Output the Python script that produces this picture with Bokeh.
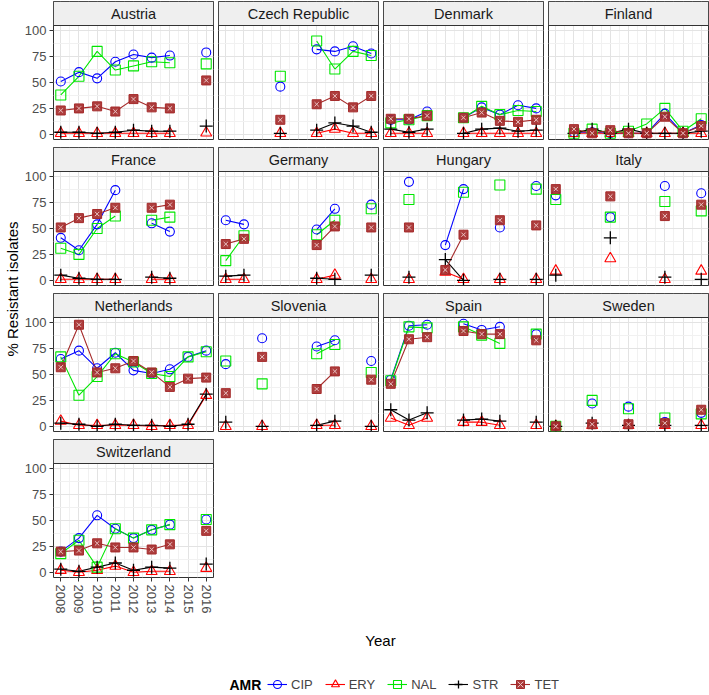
import numpy as np
from bokeh.plotting import figure
from bokeh.layouts import row, column
from bokeh.models import (Range1d, FixedTicker, Label, Legend, LegendItem,
                          ColumnDataSource, Grid, BoxAnnotation)
from bokeh.embed import file_html
from bokeh.resources import INLINE

N = None
YEARS = [2008, 2009, 2010, 2011, 2012, 2013, 2014, 2015, 2016]
YTICKS = [0, 25, 50, 75, 100]
SERIES = ["CIP", "ERY", "NAL", "STR", "TET"]

AUSTRIA = {
    "CIP": [51, 60, 54, 70, 77, 74, 76, N, 79],
    "ERY": [1, 1, 1, 1, 1, 1, 1, N, 1.5],
    "NAL": [38, 56, 80, 62, 66, 70, 69, N, 68],
    "STR": [2, 2, 1, 2, 4, 3, 3, N, 8],
    "TET": [23, 25, 27, 22, 34, 26, 25, N, 52],
}
CZECH = {
    "CIP": [N, N, N, 46, N, 82, 80, 85, 78],
    "ERY": [N, N, N, 1, N, 1, 5, 1, 1],
    "NAL": [N, N, N, 56, N, 90, 63, 80, 76],
    "STR": [N, N, N, 1, N, 4, 11, 8, 2],
    "TET": [N, N, N, 14, N, 29, 37, 26, 37],
}
DENMARK = {
    "CIP": [14, 14, 22, N, 16, 26, 19, 28, 25],
    "ERY": [1, 1, 1, N, 1, 1, 1, 1, 1],
    "NAL": [11, 14, 18, N, 16, 27, 19, 23, 22],
    "STR": [5, 2, 5, N, 1, 5, 6, 3, 4],
    "TET": [15, 15, 18, N, 16, 21, 13, 12, 14],
}
FINLAND = {
    "CIP": [N, 2, 2, 1, 1, 1, 20, 1, 9],
    "ERY": [N, 1, 1, 1, 1, 1, 1, 1, 1],
    "NAL": [N, 1, 5, 1, 3, 10, 25, 3, 15],
    "STR": [N, 1, 5, 1, 5, 1, 1, 1, 3],
    "TET": [N, 5, 1, 4, 1, 1, 17, 1, 8],
}
FRANCE = {
    "CIP": [41, 29, 54, 87, N, 55, 47, N, N],
    "ERY": [1, 1, 1, 1, N, 1, 1, N, N],
    "NAL": [31, 25, 50, 62, N, 58, 61, N, N],
    "STR": [5, 2, 1, 1, N, 3, 2, N, N],
    "TET": [51, 60, 64, 70, N, 70, 73, N, N],
}
GERMANY = {
    "CIP": [58, 54, N, N, N, 49, 69, N, 73],
    "ERY": [1, 1, N, N, N, 1, 5, N, 1],
    "NAL": [19, 43, N, N, N, 44, 58, N, 69],
    "STR": [4, 5, N, N, N, 2, 1, N, 5],
    "TET": [35, 40, N, N, N, 34, 52, N, 51],
}
HUNGARY = {
    "CIP": [N, 95, N, 34, 88, N, 51, N, 91],
    "ERY": [N, 1, N, 8, 1, N, 1, N, 1],
    "NAL": [N, 78, N, N, 85, N, 92, N, 88],
    "STR": [N, 3, N, 20, 0, N, 1, N, 1],
    "TET": [N, 51, N, 10, 44, N, 58, N, 53],
}
ITALY = {
    "CIP": [82, N, N, 61, N, N, 91, N, 84],
    "ERY": [9, N, N, 21, N, N, 1, N, 9],
    "NAL": [78, N, N, 61, N, N, 76, N, 67],
    "STR": [5, N, N, 41, N, N, 3, N, 1],
    "TET": [88, N, N, 81, N, N, 62, N, 73],
}
NETHERLANDS = {
    "CIP": [65, 73, 56, 71, 54, 51, 55, 67, 73],
    "ERY": [5, 1, 1, 1, 1, 0, 1, 1, 30],
    "NAL": [67, 30, 48, 70, 62, 51, 48, 67, 72],
    "STR": [3, 2, 0, 2, 1, 1, 0, 2, 31],
    "TET": [57, 98, 52, 56, 63, 52, 38, 46, 47],
}
SLOVENIA = {
    "CIP": [60, N, 85, N, N, 77, 83, N, 63],
    "ERY": [0, N, 0, N, N, 1, 1, N, 0],
    "NAL": [63, N, 41, N, N, 70, 79, N, 52],
    "STR": [4, N, 0, N, N, 1, 5, N, 0],
    "TET": [32, N, 67, N, N, 36, 53, N, 45],
}
SPAIN = {
    "CIP": [45, 97, 98, N, 99, 93, 96, N, 89],
    "ERY": [8, 1, 8, N, 4, 4, 1, N, 1],
    "NAL": [44, 96, 95, N, 96, 88, 80, N, 89],
    "STR": [16, 6, 13, N, 6, 7, 5, N, 4],
    "TET": [41, 84, 86, N, 92, 89, 89, N, 83],
}
SWEDEN = {
    "CIP": [0, N, 22, N, 19, N, 4, N, 13],
    "ERY": [0, N, 1, N, 1, N, 1, N, 1],
    "NAL": [0, N, 25, N, 17, N, 8, N, 12],
    "STR": [0, N, 3, N, 1, N, 1, N, 1],
    "TET": [0, N, 2, N, 2, N, 3, N, 16],
}
SWITZERLAND = {
    "CIP": [20, 33, 55, 42, 33, 41, 46, N, 51],
    "ERY": [2, 0, 2, 6, 0, 1, 1, N, 4],
    "NAL": [18, 31, 5, 42, 33, 41, 46, N, 51],
    "STR": [3, 1, 5, 9, 2, 5, 4, N, 8],
    "TET": [20, 21, 28, 24, 24, 22, 27, N, 40],
}

PANELS = [("Austria", AUSTRIA), ("Czech Republic", CZECH), ("Denmark", DENMARK),
          ("Finland", FINLAND), ("France", FRANCE), ("Germany", GERMANY),
          ("Hungary", HUNGARY), ("Italy", ITALY), ("Netherlands", NETHERLANDS),
          ("Slovenia", SLOVENIA), ("Spain", SPAIN), ("Sweden", SWEDEN),
          ("Switzerland", SWITZERLAND)]

COLORS = {"CIP": "#0000FF", "ERY": "#FF0000", "NAL": "#00E600",
          "STR": "#000000", "TET": "#A52A2A"}

FONT = "Liberation Sans"
FW, FH, SH = 160, 114, 24          # panel frame width, data height, strip height
LEFT = 31                          # room for y tick labels
YLAB_W = 21
GX, GY = 4, 7
NCOL = 4
X0, X1 = 2007.6, 2016.4
Y0, Y1 = -5, 105
YTOP = Y1 + SH * (Y1 - Y0) / FH    # strip sits above the data area


def base_fig(**kw):
    opts = dict(toolbar_location=None, output_backend="svg", min_border_left=0,
                min_border_right=0, min_border_top=0, min_border_bottom=0)
    opts.update(kw)
    p = figure(**opts)
    p.background_fill_color = "white"
    p.border_fill_color = "white"
    return p


def draw_series(p, src, s, xcol="x", ycol=None):
    ycol = ycol or s
    c = COLORS[s]
    rs = []
    if s == "CIP":
        rs.append(p.scatter(xcol, ycol, source=src, marker="circle", size=9,
                            line_color=c, fill_color=None, line_width=1.1))
    elif s == "ERY":
        rs.append(p.scatter(xcol, ycol, source=src, marker="triangle", size=11,
                            line_color=c, fill_color=None, line_width=1.1))
    elif s == "NAL":
        rs.append(p.scatter(xcol, ycol, source=src, marker="square", size=10,
                            line_color=c, fill_color=None, line_width=1.1))
    elif s == "STR":
        rs.append(p.scatter(xcol, ycol, source=src, marker="cross", size=13,
                            line_color=c, line_width=1.3))
    else:
        rs.append(p.scatter(xcol, ycol, source=src, marker="square", size=9,
                            line_color=c, fill_color=c, fill_alpha=0.9, line_width=1))
        rs.append(p.scatter(xcol, ycol, source=src, marker="x", size=6,
                            line_color="#E9C4C4", line_width=1))
    return rs


def make_panel(name, data, col, show_x):
    p = base_fig(frame_width=FW, frame_height=FH + SH,
                 x_range=Range1d(X0, X1), y_range=Range1d(Y0, YTOP),
                 x_axis_location="below" if show_x else None,
                 y_axis_location="left" if col == 0 else None,
                 min_border_left=LEFT if col == 0 else 0,
                 min_border_top=1, min_border_right=1,
                 min_border_bottom=0 if show_x else GY)
    p.outline_line_color = "#333333"
    p.center = [c for c in p.center if not isinstance(c, Grid)]
    xt = FixedTicker(ticks=YEARS, minor_ticks=[y + 0.5 for y in YEARS[:-1]])
    yt = FixedTicker(ticks=YTICKS, minor_ticks=[12.5, 37.5, 62.5, 87.5])
    p.add_layout(Grid(dimension=0, ticker=xt, grid_line_color="#E3E3E3",
                      minor_grid_line_color="#F1F1F1"), "center")
    p.add_layout(Grid(dimension=1, ticker=yt, grid_line_color="#E3E3E3",
                      minor_grid_line_color="#F1F1F1"), "center")
    axes = []
    if col == 0:
        p.yaxis.ticker = FixedTicker(ticks=YTICKS)
        axes.append(p.yaxis[0])
    if show_x:
        p.xaxis.ticker = FixedTicker(ticks=YEARS)
        p.xaxis.major_label_orientation = "vertical"
        axes.append(p.xaxis[0])
    for ax in axes:
        ax.axis_line_color = None
        ax.major_tick_line_color = "#333333"
        ax.major_tick_out = 4
        ax.major_tick_in = 0
        ax.minor_tick_line_color = None
        ax.major_label_standoff = 3
        ax.major_label_text_font = FONT
        ax.major_label_text_font_size = "13px"
        ax.major_label_text_color = "#4D4D4D"

    src = ColumnDataSource(dict(x=YEARS, **{s: np.array(
        [np.nan if v is None else v for v in data[s]], dtype=float) for s in SERIES}))
    for s in SERIES:
        p.line("x", s, source=src, line_color=COLORS[s], line_width=1.1)
    for s in SERIES:
        draw_series(p, src, s)

    # facet strip
    p.add_layout(BoxAnnotation(bottom=Y1, fill_color="#EFEFEF", fill_alpha=1,
                               line_color="#333333", line_width=1, line_alpha=1))
    p.add_layout(Label(x=(X0 + X1) / 2, y=(Y1 + YTOP) / 2, text=name,
                       text_align="center", text_baseline="middle",
                       text_font=FONT, text_font_size="14.5px",
                       text_color="#1A1A1A"))
    return p


rows = []
for r in range(0, len(PANELS), NCOL):
    chunk = PANELS[r:r + NCOL]
    cells = []
    last_row = (r // NCOL) == (len(PANELS) - 1) // NCOL
    for c, (name, data) in enumerate(chunk):
        cells.append(make_panel(name, data, c, last_row))
    rows.append(row(*cells, spacing=GX))
panels_col = column(*rows, spacing=0)

ROWS_H = 4 * (1 + SH + FH) + 3 * GY
INNER_W = NCOL * (FW + 1) + (NCOL - 1) * GX

ylab = base_fig(frame_width=YLAB_W, frame_height=ROWS_H, x_range=Range1d(0, 1),
                y_range=Range1d(0, 1), x_axis_location=None, y_axis_location=None)
ylab.grid.visible = False
ylab.outline_line_color = None
ylab.add_layout(Label(x=0.55, y=0.5, text="% Resistant isolates", angle=np.pi / 2,
                      text_align="center", text_baseline="middle", text_font=FONT,
                      text_font_size="15px", text_color="#000000"))

xlab = base_fig(frame_width=INNER_W, frame_height=44, min_border_left=LEFT,
                x_range=Range1d(0, 1), y_range=Range1d(0, 1),
                x_axis_location=None, y_axis_location=None)
xlab.grid.visible = False
xlab.outline_line_color = None
xlab.add_layout(Label(x=0.5, y=0.45, text="Year", text_align="center",
                      text_baseline="middle", text_font=FONT,
                      text_font_size="15px", text_color="#000000"))

leg = base_fig(frame_width=INNER_W, frame_height=36, min_border_left=LEFT,
               x_range=Range1d(0, 1), y_range=Range1d(0, 1),
               x_axis_location=None, y_axis_location=None)
leg.grid.visible = False
leg.outline_line_color = None
items = []
for s in SERIES:
    esrc = ColumnDataSource(dict(x=[np.nan], y=[np.nan]))
    rl = leg.line("x", "y", source=esrc, line_color=COLORS[s], line_width=1.1)
    rp = draw_series(leg, esrc, s, "x", "y")
    items.append(LegendItem(label=s, renderers=[rl] + rp))
legend = Legend(items=items, orientation="horizontal", location=(215, 2),
                border_line_color=None, background_fill_alpha=0,
                label_text_font=FONT, label_text_font_size="13px",
                glyph_width=20, glyph_height=20, spacing=12, label_standoff=4,
                padding=0, margin=0)
leg.add_layout(legend, "center")
leg.add_layout(Label(x=177, y=12, x_units="screen", y_units="screen", text="AMR",
                     text_baseline="middle", text_font=FONT, text_font_size="14px",
                     text_font_style="bold", text_color="#000000"))

main = column(panels_col, xlab, leg, spacing=0)
layout = row(ylab, main, spacing=0)

open("out.html", "w").write(file_html(layout, INLINE))
